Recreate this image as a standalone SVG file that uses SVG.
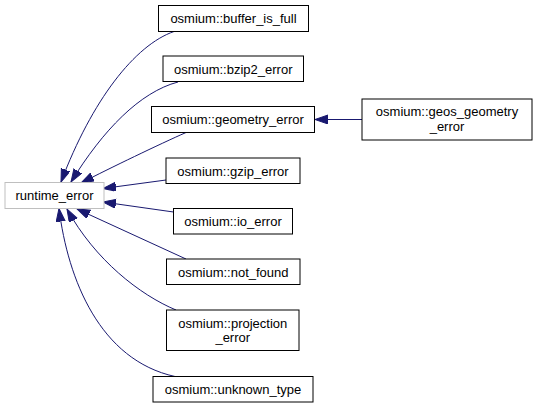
<svg xmlns="http://www.w3.org/2000/svg" width="533" height="408" viewBox="0 0 533 408">
<style>
.box{fill:#fff;stroke:#000;stroke-width:1}
.gbox{fill:#fff;stroke:#bfbfbf;stroke-width:1}
.lbl{font-family:"Liberation Sans",Arial,sans-serif;font-size:13px;fill:#000;text-anchor:middle}
.edge{fill:none;stroke:#191970;stroke-width:1;marker-end:url(#arr)}
</style>
<defs>
<marker id="arr" markerUnits="userSpaceOnUse" markerWidth="14" markerHeight="10" refX="13" refY="4.5" orient="auto">
<path d="M0,0 L13,4.5 L0,9 Z" fill="#191970" stroke="#191970" stroke-width="1"/>
</marker>
</defs>
<rect width="533" height="408" fill="#fff"/>
<g id="connectors">
<path class="edge" d="M174,31.5 C135,45 92,100 61,182"/>
<path class="edge" d="M178,82 C140,92 103,130 71,182"/>
<path class="edge" d="M186,132.5 C160,144 110,168 81,183"/>
<path class="edge" d="M166,180 L103,188.5"/>
<path class="edge" d="M173.5,212 L103,202"/>
<path class="edge" d="M186,259 L77,209"/>
<path class="edge" d="M176,310 C140,295 95,260 67,209"/>
<path class="edge" d="M175,376.5 C100,360 68,280 59,208.5"/>
<path class="edge" d="M362,119.5 L315,119.5"/>
</g>
<g id="runtime_error">
<rect class="gbox" x="5" y="182.5" width="99" height="26"/>
<text class="lbl" x="54.5" y="200">runtime_error</text>
</g>
<g id="buffer_is_full">
<rect class="box" x="158.5" y="5.5" width="150" height="26"/>
<text class="lbl" x="233.5" y="23">osmium::buffer_is_full</text>
</g>
<g id="bzip2_error">
<rect class="box" x="163" y="56" width="140.5" height="25.5"/>
<text class="lbl" x="233.25" y="73.5">osmium::bzip2_error</text>
</g>
<g id="geometry_error">
<rect class="box" x="151.5" y="106.5" width="163" height="26"/>
<text class="lbl" x="233" y="124">osmium::geometry_error</text>
</g>
<g id="geos_geometry_error">
<rect class="box" x="362" y="99" width="170" height="41"/>
<text class="lbl" x="447" y="116">osmium::geos_geometry</text>
<text class="lbl" x="447" y="130.5">_error</text>
</g>
<g id="gzip_error">
<rect class="box" x="166" y="158" width="134" height="25.5"/>
<text class="lbl" x="233" y="175.5">osmium::gzip_error</text>
</g>
<g id="io_error">
<rect class="box" x="173.5" y="208.5" width="119" height="25.5"/>
<text class="lbl" x="233" y="226">osmium::io_error</text>
</g>
<g id="not_found">
<rect class="box" x="166.5" y="259" width="133.5" height="25.5"/>
<text class="lbl" x="233.25" y="276.5">osmium::not_found</text>
</g>
<g id="projection_error">
<rect class="box" x="166.5" y="310" width="132.5" height="40.5"/>
<text class="lbl" x="232.75" y="327.5">osmium::projection</text>
<text class="lbl" x="232.75" y="342">_error</text>
</g>
<g id="unknown_type">
<rect class="box" x="153" y="376.5" width="160" height="25.5"/>
<text class="lbl" x="233" y="394">osmium::unknown_type</text>
</g>
</svg>
